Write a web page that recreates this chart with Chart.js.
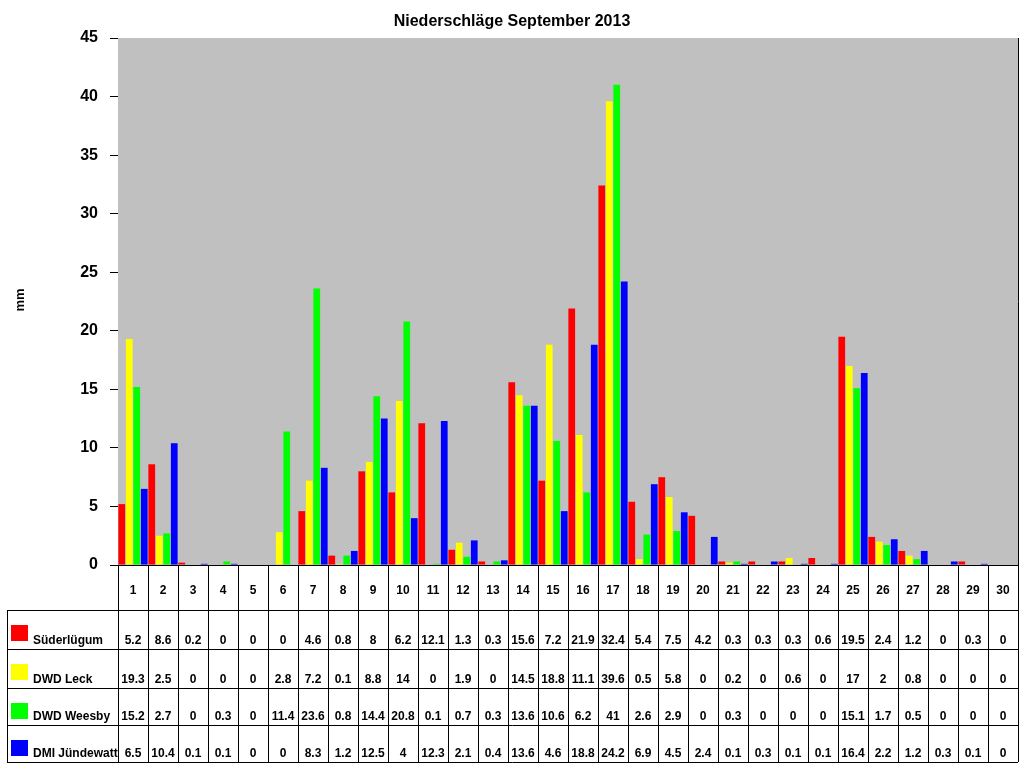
<!DOCTYPE html>
<html lang="de">
<head>
<meta charset="UTF-8">
<title>Niederschläge September 2013</title>
<style>
    body { margin: 0; background: #fff; }
    #wrap { width: 1024px; height: 768px; }
</style>
</head>
<body>
<div id="wrap"><canvas id="chart" width="1024" height="768"></canvas></div>
<script src="https://cdn.jsdelivr.net/npm/chart.js"></script>
<script>
    var days = [];
    for (var d = 1; d <= 30; d++) days.push(String(d));
    var suederluegum = [5.2, 8.6, 0.2, 0, 0, 0, 4.6, 0.8, 8, 6.2, 12.1, 1.3, 0.3, 15.6, 7.2, 21.9, 32.4, 5.4, 7.5, 4.2, 0.3, 0.3, 0.3, 0.6, 19.5, 2.4, 1.2, 0, 0.3, 0];
    var dwdLeck = [19.3, 2.5, 0, 0, 0, 2.8, 7.2, 0.1, 8.8, 14, 0, 1.9, 0, 14.5, 18.8, 11.1, 39.6, 0.5, 5.8, 0, 0.2, 0, 0.6, 0, 17, 2, 0.8, 0, 0, 0];
    var dwdWeesby = [15.2, 2.7, 0, 0.3, 0, 11.4, 23.6, 0.8, 14.4, 20.8, 0.1, 0.7, 0.3, 13.6, 10.6, 6.2, 41, 2.6, 2.9, 0, 0.3, 0, 0, 0, 15.1, 1.7, 0.5, 0, 0, 0];
    var dmiJuendewatt = [6.5, 10.4, 0.1, 0.1, 0, 0, 8.3, 1.2, 12.5, 4, 12.3, 2.1, 0.4, 13.6, 4.6, 18.8, 24.2, 6.9, 4.5, 2.4, 0.1, 0.3, 0.1, 0.1, 16.4, 2.2, 1.2, 0.3, 0.1, 0];
    var seriesNames = ['Süderlügum', 'DWD Leck', 'DWD Weesby', 'DMI Jündewatt'];
    var seriesColors = ['#ff0000', '#ffff00', '#00ff00', '#0000ff'];
    var seriesData = [suederluegum, dwdLeck, dwdWeesby, dmiJuendewatt];

    var FONT = 'bold 12px "Liberation Sans", Arial, sans-serif';
    var rowLines = [610, 649, 688, 725, 762];

    var decor = {
        id: 'decor',
        beforeDatasetsDraw: function (chart) {
            var a = chart.chartArea, ctx = chart.ctx;
            ctx.save();
            ctx.fillStyle = '#c0c0c0';
            ctx.fillRect(a.left, a.top, a.right - a.left, a.bottom - a.top);
            ctx.restore();
        },
        beforeDraw: function (chart) {
            var ctx = chart.ctx;
            ctx.save();
            ctx.fillStyle = '#fff';
            ctx.fillRect(0, 0, chart.width, chart.height);
            ctx.restore();
        },
        afterDraw: function (chart) {
            var a = chart.chartArea, ctx = chart.ctx, x = chart.scales.x;
            ctx.save();
            ctx.fillStyle = '#000';
            ctx.font = 'bold 16px "Liberation Sans", Arial, sans-serif';
            ctx.textAlign = 'center';
            ctx.fillText('Niederschläge September 2013', 512, 26);
            ctx.save();
            ctx.translate(24, 300);
            ctx.rotate(-Math.PI / 2);
            ctx.font = 'bold 13px "Liberation Sans", Arial, sans-serif';
            ctx.fillText('mm', 0, 0);
            ctx.restore();

            // table
            ctx.strokeStyle = '#000';
            ctx.lineWidth = 1;
            var step = (a.right - a.left) / days.length;
            ctx.beginPath();
            for (var i = 0; i <= days.length; i++) {
                var lx = Math.round(a.left + i * step) + 0.5;
                ctx.moveTo(lx, a.bottom); ctx.lineTo(lx, 762);
            }
            rowLines.forEach(function (y) {
                ctx.moveTo(7, y + 0.5); ctx.lineTo(a.right, y + 0.5);
            });
            ctx.moveTo(7.5, rowLines[0]); ctx.lineTo(7.5, 762);
            ctx.stroke();

            ctx.font = FONT;
            ctx.textAlign = 'center';
            days.forEach(function (dLabel, i) {
                ctx.fillText(dLabel, x.getPixelForValue(i), 594);
            });
            seriesData.forEach(function (vals, r) {
                var top = rowLines[r], base = rowLines[r + 1] - 5;
                ctx.fillStyle = seriesColors[r];
                ctx.fillRect(11, top + 15, 17, 16);
                ctx.fillStyle = '#000';
                ctx.textAlign = 'left';
                ctx.fillText(seriesNames[r], 33, base);
                ctx.textAlign = 'center';
                vals.forEach(function (v, i) {
                    ctx.fillText(String(v), x.getPixelForValue(i), base);
                });
            });
            ctx.restore();
        }
    };

    new Chart(document.getElementById('chart'), {
        type: 'bar',
        data: {
            labels: days,
            datasets: seriesData.map(function (vals, i) {
                return { label: seriesNames[i], data: vals, backgroundColor: seriesColors[i], borderWidth: 0 };
            })
        },
        options: {
            responsive: false,
            animation: false,
            layout: { padding: { left: 0, right: 6, top: 38, bottom: 203 } },
            plugins: { legend: { display: false }, title: { display: false }, tooltip: { enabled: false } },
            datasets: { bar: { categoryPercentage: 1.0, barPercentage: 0.9 } },
            scales: {
                x: {
                    offset: true,
                    ticks: { display: false },
                    grid: { offset: true, color: '#000', drawTicks: false },
                    border: { color: '#000' }
                },
                y: {
                    min: 0, max: 45,
                    afterFit: function (s) { s.width = 118; },
                    ticks: { stepSize: 5, color: '#000', padding: 12, font: { family: '"Liberation Sans", Arial', size: 16, weight: 'bold' } },
                    grid: { color: '#000', tickLength: 8 },
                    border: { color: '#000' }
                }
            }
        },
        plugins: [decor]
    });
</script>
</body>
</html>
